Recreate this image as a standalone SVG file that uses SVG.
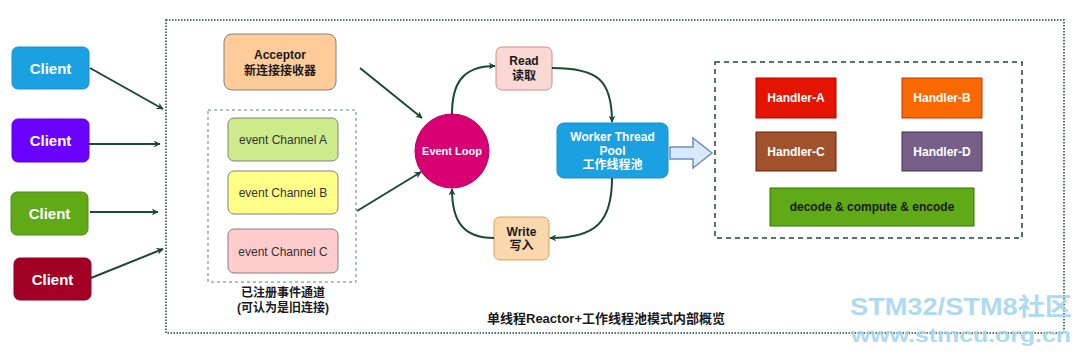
<svg xmlns="http://www.w3.org/2000/svg" width="1080" height="355" viewBox="0 0 1080 355">
<defs>
<marker id="ah" viewBox="0 0 10 10" refX="9" refY="5" markerWidth="7" markerHeight="7" orient="auto" markerUnits="userSpaceOnUse">
<path d="M0,0 L10,5 L0,10 L3,5 Z" fill="#1b4a32"/>
</marker>
<style>
text{font-family:"Liberation Sans","Noto Sans CJK SC",Arial,sans-serif;text-anchor:middle;dominant-baseline:central}
.b{font-weight:bold}
.w{fill:#ffffff}
.k{fill:#1a1a1a}
.cl{font-size:15px;font-weight:bold;fill:#ffffff}
.lab{font-size:12px;font-weight:bold;fill:#1a1a1a}
.ch{font-size:12px;fill:#333333}
.hd{font-size:12px;font-weight:bold;fill:#ffffff}
.con{fill:none;stroke:#1b4a32;stroke-width:2;marker-end:url(#ah)}
</style>
</defs>
<rect width="1080" height="355" fill="#ffffff"/>
<rect x="166" y="20" width="898" height="313" fill="none" stroke="#1b4a32" stroke-width="1.5" stroke-dasharray="1.5 1.5"/>
<g id="client1"><rect x="12" y="47" width="77" height="42" rx="6" fill="#1ba1e2" stroke="#1590cc"/><text x="50.5" y="68" class="cl">Client</text></g>
<g id="client2"><rect x="12" y="119" width="77" height="43" rx="6" fill="#6a00ff" stroke="#5a00e0"/><text x="50.5" y="140.5" class="cl">Client</text></g>
<g id="client3"><rect x="11" y="192" width="77" height="43" rx="6" fill="#60a917" stroke="#4e9010"/><text x="49.5" y="213.5" class="cl">Client</text></g>
<g id="client4"><rect x="14" y="258" width="77" height="42" rx="6" fill="#a20025" stroke="#8a001e"/><text x="52.5" y="279" class="cl">Client</text></g>
<g id="acceptor"><rect x="224" y="34" width="112" height="56" rx="8" fill="#ffcc99" stroke="#808080"/><text x="280" y="55" class="lab">Acceptor</text><text x="280" y="71" class="lab">新连接接收器</text></g>
<g id="channels"><rect x="208" y="110" width="148" height="172" fill="none" stroke="#6e7f7a" stroke-dasharray="3 3"/>
<text x="283" y="293" class="lab">已注册事件通道</text><text x="283" y="308" class="lab">(可认为是旧连接)</text></g>
<g id="channelA"><rect x="228" y="118" width="110" height="43" rx="6" fill="#cdeb8b" stroke="#808080"/><text x="283" y="140" class="ch">event Channel A</text></g>
<g id="channelB"><rect x="228" y="171" width="110" height="43" rx="6" fill="#ffff88" stroke="#808080"/><text x="283" y="193" class="ch">event Channel B</text></g>
<g id="channelC"><rect x="228" y="229" width="110" height="44" rx="6" fill="#ffcccc" stroke="#808080"/><text x="283" y="252" class="ch">event Channel C</text></g>
<g id="eventloop"><circle cx="452" cy="151" r="37" fill="#d80073" stroke="#b8005f"/><text x="452" y="151" class="w b" font-size="11">Event Loop</text></g>
<g id="read"><rect x="496" y="47" width="56" height="43" rx="6" fill="#fad9d5" stroke="#d38a80"/><text x="524" y="61" class="lab">Read</text><text x="524" y="76" class="lab">读取</text></g>
<g id="worker"><rect x="557" y="123" width="111" height="55" rx="7" fill="#1ba1e2" stroke="#1590cc"/><text x="612.5" y="137" class="hd">Worker Thread</text><text x="612.5" y="151" class="hd">Pool</text><text x="612.5" y="165" class="hd">工作线程池</text></g>
<g id="write"><rect x="494" y="217" width="55" height="43" rx="6" fill="#fad7ac" stroke="#d9a05a"/><text x="521.5" y="232" class="lab">Write</text><text x="521.5" y="246" class="lab">写入</text></g>
<g id="bigarrow"><path d="M670,147 L693,147 L693,138 L712,153 L693,168 L693,159 L670,159 Z" fill="#dae8fc" stroke="#6c8ebf" stroke-width="1.5"/></g>
<g id="handlers"><rect x="715" y="62" width="307" height="176" fill="none" stroke="#1b4a32" stroke-width="1.5" stroke-dasharray="5 4"/></g>
<g id="handlerA"><rect x="756" y="78" width="80" height="40" fill="#e51400" stroke="#b20000"/><text x="796" y="98" class="hd">Handler-A</text></g>
<g id="handlerB"><rect x="902" y="78" width="80" height="40" fill="#fa6800" stroke="#c73500"/><text x="942" y="98" class="hd">Handler-B</text></g>
<g id="handlerC"><rect x="756" y="132" width="80" height="39" fill="#a0522d" stroke="#6d1f00"/><text x="796" y="151.5" class="hd">Handler-C</text></g>
<g id="handlerD"><rect x="902" y="132" width="80" height="39" fill="#76608a" stroke="#432d57"/><text x="942" y="151.5" class="hd">Handler-D</text></g>
<g id="decode"><rect x="770" y="188" width="204" height="38" fill="#60a917" stroke="#2d7600"/><text x="872" y="207" class="lab">decode &amp; compute &amp; encode</text></g>
<g id="connectors">
<path class="con" d="M90,68 L163,109"/>
<path class="con" d="M89,144 L160,144"/>
<path class="con" d="M90,212 L158,212"/>
<path class="con" d="M91,278 L163,249"/>
<path class="con" d="M360,68 L422,118"/>
<path class="con" d="M357,211 L421,172"/>
<path class="con" d="M452,114 C452,84 462,66 495,66"/>
<path class="con" d="M552,68 C598,68 612,80 612,122"/>
<path class="con" d="M612,178 C612,222 596,238 550,238"/>
<path class="con" d="M494,238 C462,238 452,220 452,189"/>
</g>
<text x="606" y="318" class="lab" font-size="13" style="font-size:13px">单线程Reactor+工作线程池模式内部概览</text>
<g id="watermark" font-weight="bold" opacity="0.85">
<text x="961" y="306" font-size="24" textLength="222" lengthAdjust="spacingAndGlyphs" style="fill:#9fd4ee">STM32/STM8社区</text>
<text x="961" y="334" font-size="21" textLength="220" lengthAdjust="spacingAndGlyphs" style="fill:#9fd4ee">www.stmcu.org.cn</text>
</g>
</svg>
